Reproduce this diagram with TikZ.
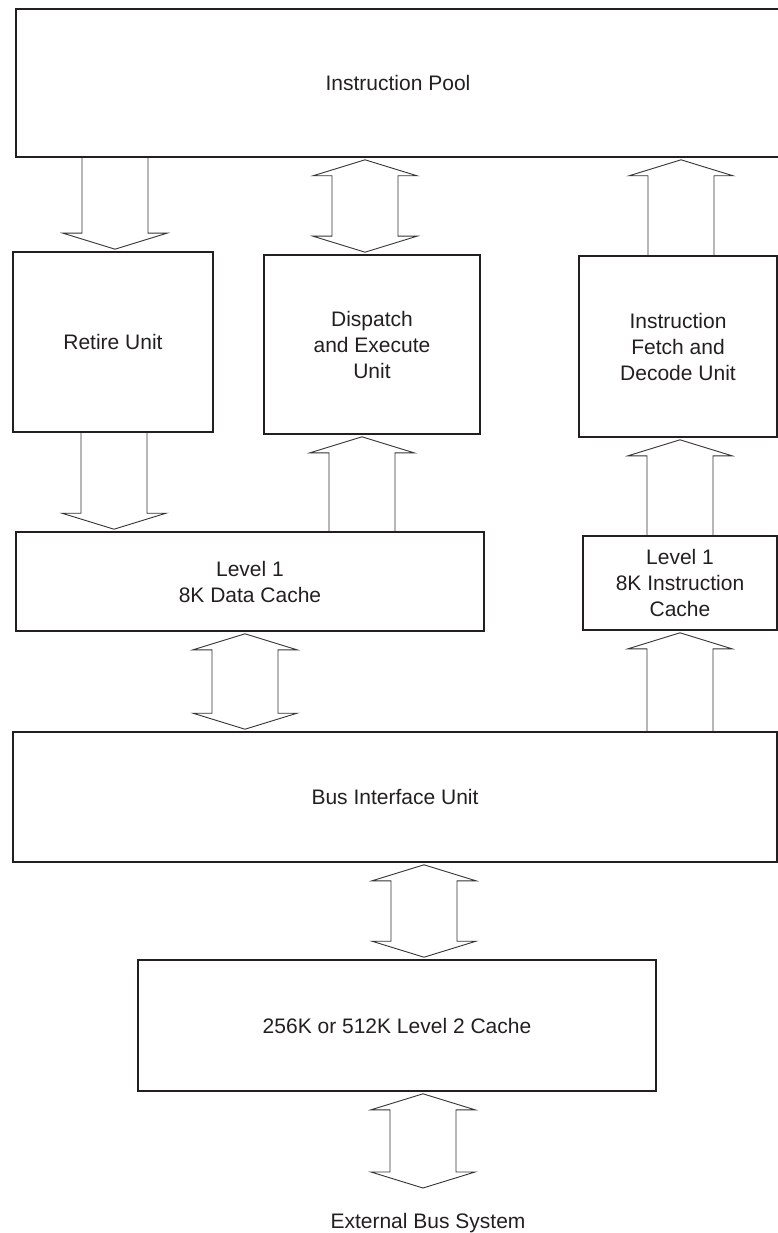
\documentclass[tikz,border=0pt]{standalone}
\usepackage{fontspec}
\setmainfont{Liberation Sans}
\usetikzlibrary{calc}
\definecolor{ink}{HTML}{231F20}
\definecolor{shaftgrey}{HTML}{333333}
\tikzset{
  unit/.style={draw=ink, line width=1.6pt, align=center, inner sep=0pt,
               font=\fontsize{21}{26}\selectfont, text=ink},
  hollow/.style={draw=shaftgrey, line width=0.9pt, line join=miter},
}
% hollow block arrows: x of the shaft, then the two ends
\newcommand{\blockup}[3]{%
  \draw[hollow] ($(#1,0 |- #2)+(-33,0)$) -- ($(#1,0 |- #3)+(-33,-18)$) -- ++(-19,0)
    -- ($(#1,0 |- #3)+(0,-2)$) -- ++(52,-16) -- ++(-19,0) -- ($(#1,0 |- #2)+(33,0)$);}
\newcommand{\blockdown}[3]{%
  \draw[hollow] ($(#1,0 |- #2)+(-33,0)$) -- ($(#1,0 |- #3)+(-33,18)$) -- ++(-19,0)
    -- ($(#1,0 |- #3)+(0,2)$) -- ++(52,16) -- ++(-19,0) -- ($(#1,0 |- #2)+(33,0)$);}
\newcommand{\blockboth}[3]{%
  \draw[hollow] ($(#1,0 |- #2)+(0,-2)$) -- ++(52,-16) -- ++(-19,0)
    -- ($(#1,0 |- #3)+(33,18)$) -- ++(19,0) -- ($(#1,0 |- #3)+(0,2)$)
    -- ++(-52,16) -- ++(19,0) -- ($(#1,0 |- #2)+(-33,-18)$) -- ++(-19,0) -- cycle;}

\begin{document}
\begin{tikzpicture}[x=1pt, y=1pt]
  \useasboundingbox (0,0) rectangle (778,-1233);

  \node[unit, minimum width=764pt, minimum height=148pt] (pool) at (398,-83) {Instruction Pool};
  \node[unit, minimum width=200pt, minimum height=180pt] (retire) at (113,-342) {Retire Unit};
  \node[unit, minimum width=216pt, minimum height=179pt] (dispatch) at (372,-344.5) {Dispatch\\and Execute\\Unit};
  \node[unit, minimum width=198pt, minimum height=181pt] (fetch) at (678,-346.5) {Instruction\\Fetch and\\Decode Unit};
  \node[unit, minimum width=468pt, minimum height=99pt] (l1d) at (250,-581.5) {Level 1\\8K Data Cache};
  \node[unit, minimum width=194pt, minimum height=94pt] (l1i) at (680,-583) {Level 1\\8K Instruction\\Cache};
  \node[unit, minimum width=764pt, minimum height=130pt] (biu) at (395,-797) {Bus Interface Unit};
  \node[unit, minimum width=518pt, minimum height=131pt] (l2) at (397,-1025.5) {256K or 512K Level 2 Cache};
  \node[font=\fontsize{21}{26}\selectfont, text=ink, anchor=base] (extbus) at (428,-1228) {External Bus System};
  \coordinate (busend) at (423,-1190);

  \foreach \x/\a/\b in {115/pool.south/retire.north, 114/retire.south/l1d.north}
    {\blockdown{\x}{\a}{\b}}
  \foreach \x/\a/\b in {681/fetch.north/pool.south, 362/l1d.north/dispatch.south,
                        680/l1i.north/fetch.south, 680/biu.north/l1i.south}
    {\blockup{\x}{\a}{\b}}
  \foreach \x/\a/\b in {365/pool.south/dispatch.north, 245/l1d.south/biu.north,
                        424/biu.south/l2.north, 423/l2.south/busend}
    {\blockboth{\x}{\a}{\b}}
\end{tikzpicture}
\end{document}
